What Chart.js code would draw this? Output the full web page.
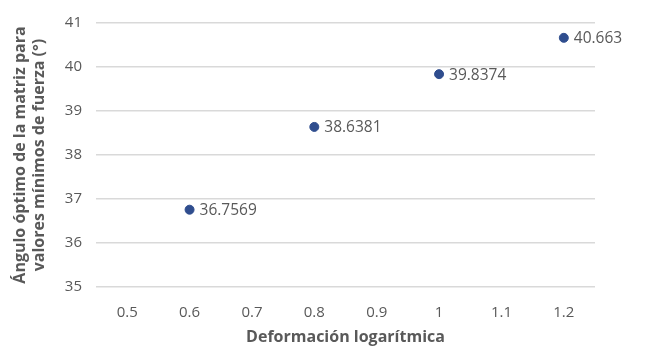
<!DOCTYPE html>
<html>
<head>
<meta charset="utf-8">
<script src="https://cdn.jsdelivr.net/npm/chart.js@4"></script>
<style>
  html, body { margin: 0; padding: 0; background: #fff; }
  #wrap { width: 646px; height: 347px; }
</style>
</head>
<body>
<div id="wrap"><canvas id="chart"></canvas></div>
<script>
// data
const deformacion = [0.6, 0.8, 1.0, 1.2];
const angulo = [36.7569, 38.6381, 39.8374, 40.663];
const xTicks = [0.5, 0.6, 0.7, 0.8, 0.9, 1, 1.1, 1.2];
const yTicks = [35, 36, 37, 38, 39, 40, 41];

const GREY = "#595959";
const FONT = "'Open Sans', sans-serif";

// value labels to the right of each point
const pointLabels = {
  id: "pointLabels",
  afterDatasetsDraw(chart) {
    const ctx = chart.ctx;
    const meta = chart.getDatasetMeta(0);
    ctx.save();
    ctx.font = "15.5px " + FONT;
    ctx.fillStyle = GREY;
    ctx.textAlign = "left";
    ctx.textBaseline = "middle";
    meta.data.forEach((pt, i) => {
      ctx.fillText(String(angulo[i]), pt.x + 10, pt.y + 1);
    });
    ctx.restore();
  },
};

new Chart(document.getElementById("chart"), {
  type: "scatter",
  data: {
    datasets: [
      {
        data: deformacion.map((x, i) => ({ x, y: angulo[i] })),
        backgroundColor: "#2f4d8e",
        borderColor: "#2f4d8e",
        pointRadius: 4.5,
      },
    ],
  },
  options: {
    responsive: true,
    maintainAspectRatio: false,
    animation: false,
    layout: { padding: { left: 0, right: 51, top: 10, bottom: 0 } },
    plugins: { legend: { display: false }, tooltip: { enabled: false } },
    scales: {
      x: {
        type: "linear",
        min: 0.45,
        max: 1.25,
        afterBuildTicks: (s) => { s.ticks = xTicks.map((v) => ({ value: v })); },
        afterFit: (s) => { s.height = 60; },
        grid: { display: false },
        border: { display: false },
        ticks: {
          color: GREY,
          font: { family: FONT, size: 15 },
          padding: 9,
          callback: (v) => String(v),
        },
        title: {
          display: true,
          text: "Deformación logarítmica",
          color: GREY,
          font: { family: FONT, size: 16, weight: "bold" },
          padding: { top: 4, bottom: 0 },
        },
      },
      y: {
        min: 35,
        max: 41,
        afterBuildTicks: (s) => { s.ticks = yTicks.map((v) => ({ value: v })); },
        afterFit: (s) => { s.width = 96; },
        grid: { color: "#d9d9d9", lineWidth: 1.5, drawTicks: false },
        border: { display: false },
        ticks: { color: GREY, font: { family: FONT, size: 15 }, padding: 14 },
        title: {
          display: true,
          text: ["Ángulo óptimo de la matriz para", "valores mínimos de fuerza (°)"],
          color: GREY,
          font: { family: FONT, size: 16, weight: "bold" },
          padding: { top: 11, bottom: 4 },
        },
      },
    },
  },
  plugins: [pointLabels],
});
</script>
</body>
</html>
